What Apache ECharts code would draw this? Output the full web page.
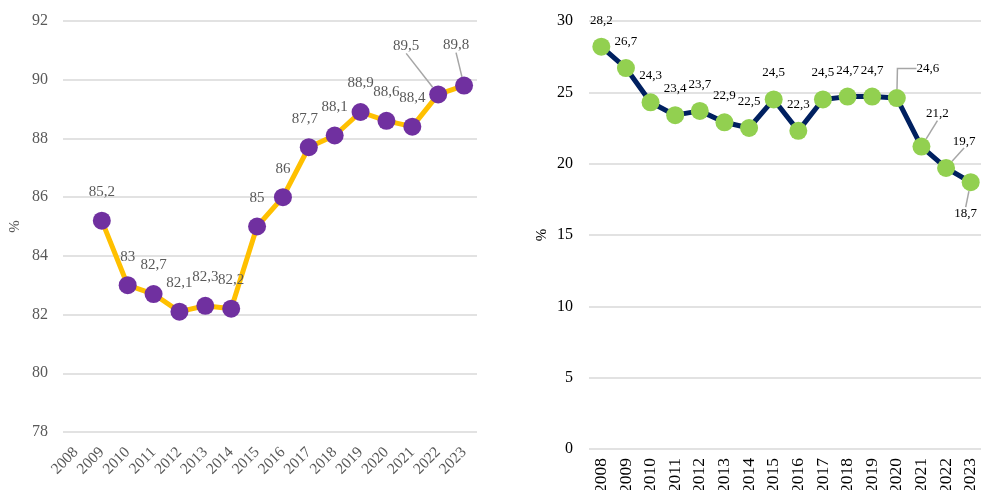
<!DOCTYPE html>
<html>
<head>
<meta charset="utf-8">
<script src="https://cdn.jsdelivr.net/npm/echarts@6/dist/echarts.min.js"></script>
<style>
  html, body { margin: 0; padding: 0; background: #fff; }
  #chart { width: 981px; height: 490px; }
</style>
</head>
<body>
<div id="chart"></div>
<script>
// Years shown on both horizontal axes
const years = ['2008','2009','2010','2011','2012','2013','2014','2015','2016','2017','2018','2019','2020','2021','2022','2023'];

// Left panel: share in %, no value for 2008
const leftValues = [null, 85.2, 83, 82.7, 82.1, 82.3, 82.2, 85, 86, 87.7, 88.1, 88.9, 88.6, 88.4, 89.5, 89.8];

// Right panel: share in %
const rightValues = [28.2, 26.7, 24.3, 23.4, 23.7, 22.9, 22.5, 24.5, 22.3, 24.5, 24.7, 24.7, 24.6, 21.2, 19.7, 18.7];

// Left axis ticks
const leftTicks = { min: 78, max: 92, step: 2 };
// Right axis ticks
const rightTicks = { min: 0, max: 30, step: 5 };

// Labels moved away from their point: [dx, dy, guide line, elbow length], keyed by year index
const leftShift = { 9: [-4, 0, false, 0], 14: [-32, -20, true, 0], 15: [-8, -12, true, 0] };
const rightShift = { 12: [31, -3, true, 19], 13: [16, -6, true, 0], 14: [18, 0, true, 0], 15: [-5, 58, true, 0] };

const font = 'Liberation Serif';
const fmt = v => String(v).replace('.', ',');

function buildData(values, shifts) {
  return values.map((v, i) => {
    if (v === null) return null;
    const s = shifts[i];
    if (!s || !s[2]) return v;
    const line = { show: true };
    if (s[3]) line.length2 = s[3];
    return { value: v, labelLine: line };
  });
}

function layoutFrom(shifts) {
  return function (p) {
    const s = shifts[p.dataIndex];
    if (!s) return {};
    return { dx: s[0], dy: s[1] };
  };
}

const chart = echarts.init(document.getElementById('chart'), null, { renderer: 'canvas' });

chart.setOption({
  animation: false,
  backgroundColor: '#ffffff',
  grid: [
    { left: 63, right: 504, top: 21, bottom: 58, containLabel: false, outerBoundsMode: 'none' },
    { left: 589, right: -2, top: 21, bottom: 41, containLabel: false, outerBoundsMode: 'none' }
  ],
  xAxis: [
    {
      gridIndex: 0, type: 'category', data: years, boundaryGap: true,
      axisLine: { show: false }, axisTick: { show: false },
      axisLabel: { rotate: 45, color: '#595959', fontFamily: font, fontSize: 15.5, margin: 18, interval: 0 }
    },
    {
      gridIndex: 1, type: 'category', data: years, boundaryGap: true,
      axisLine: { show: false }, axisTick: { show: false },
      axisLabel: { rotate: 90, color: '#000000', fontFamily: font, fontSize: 17.5, margin: 9, interval: 0 }
    }
  ],
  yAxis: [
    {
      gridIndex: 0, type: 'value', min: leftTicks.min, max: leftTicks.max, interval: leftTicks.step,
      name: '%', nameLocation: 'middle', nameGap: 40, nameRotate: 90,
      nameTextStyle: { color: '#595959', fontFamily: font, fontSize: 15 },
      axisLine: { show: false }, axisTick: { show: false },
      axisLabel: { color: '#595959', fontFamily: font, fontSize: 16, margin: 15 },
      splitLine: { lineStyle: { color: '#d9d9d9', width: 1.5 } }
    },
    {
      gridIndex: 1, type: 'value', min: rightTicks.min, max: rightTicks.max, interval: rightTicks.step,
      name: '%', nameLocation: 'middle', nameGap: 39, nameRotate: 90,
      nameTextStyle: { color: '#000000', fontFamily: font, fontSize: 15 },
      axisLine: { show: false }, axisTick: { show: false },
      axisLabel: { color: '#000000', fontFamily: font, fontSize: 16, margin: 16 },
      splitLine: { lineStyle: { color: '#d9d9d9', width: 1.5 } }
    }
  ],
  series: [
    {
      type: 'line', xAxisIndex: 0, yAxisIndex: 0,
      data: buildData(leftValues, leftShift),
      connectNulls: false,
      symbol: 'circle', symbolSize: 18,
      lineStyle: { color: '#FFC000', width: 5 },
      itemStyle: { color: '#7030A0' },
      label: {
        show: true, position: 'top', distance: 12,
        color: '#595959', fontFamily: font, fontSize: 15,
        formatter: p => fmt(p.value)
      },
      labelLine: { show: false, lineStyle: { color: '#a6a6a6', width: 1.5 } },
      labelLayout: layoutFrom(leftShift),
      z: 3
    },
    {
      type: 'line', xAxisIndex: 1, yAxisIndex: 1,
      data: buildData(rightValues, rightShift),
      symbol: 'circle', symbolSize: 18,
      lineStyle: { color: '#002060', width: 5 },
      itemStyle: { color: '#92D050' },
      label: {
        show: true, position: 'top', distance: 11,
        color: '#000000', fontFamily: font, fontSize: 13,
        formatter: p => fmt(p.value)
      },
      labelLine: { show: false, lineStyle: { color: '#a6a6a6', width: 1.5 } },
      labelLayout: layoutFrom(rightShift),
      z: 3
    }
  ]
});
</script>
</body>
</html>
